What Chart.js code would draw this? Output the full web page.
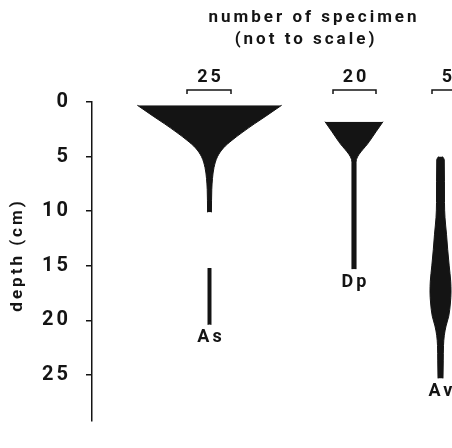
<!DOCTYPE html>
<html>
<head>
<meta charset="utf-8">
<title>Kite diagram</title>
<script src="https://cdn.jsdelivr.net/npm/chart.js@4"></script>
<style>
  html, body { margin: 0; padding: 0; background: #fff; }
  #wrap { width: 452px; height: 448px; }
</style>
</head>
<body>
<div id="wrap"><canvas id="kiteChart"></canvas></div>
<script>
// depth samples (cm) and specimen counts
const species = ['As', 'Dp', 'Av']
const scaleCounts = [25, 20, 5]
const depthTicks = [0, 5, 10, 15, 20, 25]

const asDepth = [0.3, 1.3, 2.0, 2.8, 3.5, 4.2, 5.0, 6.0, 7.0, 8.0, 10.1, 12.6, 15.2, 20.4]
const asCount = [82, 64, 51, 37, 25.6, 15.9, 9.1, 5.1, 3.4, 2.6, 2.2, null, 1.7, 1.7]
const dpDepth = [1.8, 3.6, 5.5, 15.3]
const dpCount = [27, 14.4, 1.9, 1.9]
const avDepth = [5.0, 5.3, 9.2, 10.6, 12.1, 13.5, 15, 16.4, 17.4, 18.4, 19.6, 20.5, 21.4, 22.3, 23.7, 25.3]
const avCount = [0.7, 1.25, 1.33, 1.5, 2, 2.4, 2.9, 3.4, 3.5, 3.3, 2.75, 1.85, 1.25, 1, 0.92, 0.83]

const depths = [asDepth, dpDepth, avDepth]
const counts = [asCount, dpCount, avCount]

// layout: kite centre, pixels per specimen (each kite has its own scale), scale bar centre
const kites = [
  { center: 209.5, px: 1.76, bar: 209 },
  { center: 354, px: 2.15, bar: 354.5 },
  { center: 440.5, px: 6, bar: 447 },
]
const ink = '#141414'
const font = 'Roboto, "Liberation Sans", sans-serif'

const datasets = []
species.forEach((name, i) => {
  const k = kites[i]
  const edge = (sign) => depths[i].map((d, j) => ({
    x: counts[i][j] == null ? null : k.center + sign * counts[i][j] * k.px / 2,
    y: d,
  }))
  const common = {
    borderColor: ink,
    backgroundColor: ink,
    borderWidth: 1,
    pointRadius: 0,
    cubicInterpolationMode: 'monotone',
    spanGaps: false,
  }
  datasets.push({ ...common, label: name + ' left', data: edge(-1), fill: false })
  datasets.push({ ...common, label: name, data: edge(1), fill: '-1' })
})

const decor = {
  id: 'decor',
  beforeDraw(chart) {
    chart.ctx.letterSpacing = '3px'
  },
  afterDraw(chart) {
    const { ctx, scales: { x, y } } = chart
    ctx.save()
    ctx.fillStyle = ink
    ctx.strokeStyle = ink
    ctx.textAlign = 'center'

    // heading
    ctx.font = 'bold 17px ' + font
    ctx.letterSpacing = '3px'
    ctx.textBaseline = 'alphabetic'
    ctx.fillText('number of specimen', 314, 22)
    ctx.fillText('(not to scale)', 306, 44)

    // y axis title
    ctx.save()
    ctx.translate(18, 255)
    ctx.rotate(-Math.PI / 2)
    ctx.letterSpacing = '3px'
    ctx.textBaseline = 'middle'
    ctx.fillText('depth (cm)', 0, 0)
    ctx.restore()

    // scale bars and species names
    ctx.lineWidth = 1.5
    species.forEach((name, i) => {
      const k = kites[i]
      const len = scaleCounts[i] * k.px
      const bx = x.getPixelForValue(k.bar)
      const by = 90
      ctx.beginPath()
      ctx.moveTo(bx - len / 2, by + 4)
      ctx.lineTo(bx - len / 2, by)
      ctx.lineTo(bx + len / 2, by)
      ctx.lineTo(bx + len / 2, by + 4)
      ctx.stroke()

      ctx.font = 'bold 18px ' + font
      ctx.letterSpacing = '3px'
      ctx.textBaseline = 'alphabetic'
      ctx.fillText(String(scaleCounts[i]), bx + 1.5, 82)

      const d = depths[i]
      const bottom = y.getPixelForValue(d[d.length - 1])
      ctx.textBaseline = 'top'
      ctx.fillText(name, x.getPixelForValue(k.center) + 1.5, bottom + 4)
    })
    ctx.restore()
  },
}

new Chart(document.getElementById('kiteChart'), {
  type: 'line',
  data: { datasets },
  options: {
    indexAxis: 'y',
    responsive: true,
    maintainAspectRatio: false,
    animation: false,
    layout: { padding: { top: 102, bottom: 12, left: 0, right: 0 } },
    plugins: {
      legend: { display: false },
      tooltip: { enabled: false },
    },
    scales: {
      x: { type: 'linear', min: 92, max: 452, display: false },
      y: {
        type: 'linear',
        reverse: true,
        min: 0,
        max: 29.2,
        afterFit(axis) { axis.width = 92 },
        afterBuildTicks(axis) { axis.ticks = depthTicks.map(v => ({ value: v })) },
        ticks: {
          color: ink,
          padding: 15,
          font: { family: font, size: 20, weight: 'bold' },
        },
        grid: { drawOnChartArea: false, drawTicks: true, tickLength: 6, color: ink, lineWidth: 1.5 },
        border: { display: true, color: ink, width: 1.5 },
      },
    },
  },
  plugins: [decor],
})
</script>
</body>
</html>
